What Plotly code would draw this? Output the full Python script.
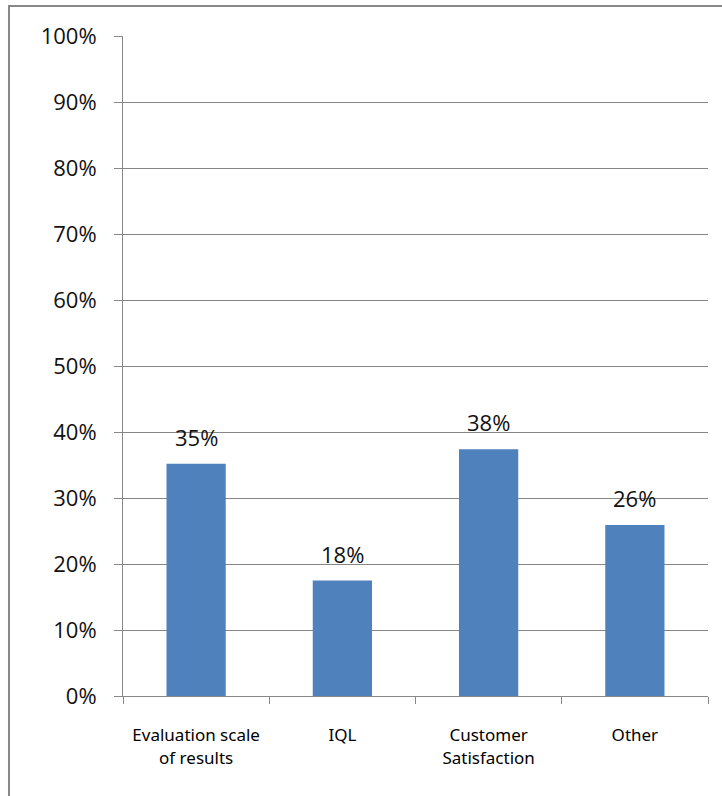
import plotly.graph_objects as go

categories = ["Evaluation scale<br>of results", "IQL", "Customer<br>Satisfaction", "Other"]
values = [0.352, 0.175, 0.374, 0.259]
labels = ["35%", "18%", "38%", "26%"]
y_ticks = [i / 10 for i in range(11)]
y_tick_labels = [f"{i * 10}%" for i in range(11)]

fig = go.Figure()
fig.add_trace(go.Bar(x=categories, y=values, marker=dict(color="#4F81BD", line=dict(width=0)),
                     width=0.405, showlegend=False))

for c, v, t in zip(categories, values, labels):
    fig.add_annotation(x=c, y=v, text=t, showarrow=False, yanchor="middle", yshift=27,
                       font=dict(family="Open Sans", size=22, color="#111111"))

fig.add_shape(type="rect", xref="paper", yref="paper",
              x0=-0.1949, x1=1.04, y0=-0.17, y1=1.0455,
              line=dict(color="#888888", width=2), fillcolor="rgba(0,0,0,0)", layer="below")

fig.update_layout(
    width=722, height=796,
    margin=dict(l=123, r=14, t=36, b=100),
    paper_bgcolor="white", plot_bgcolor="white",
    bargap=0.59,
    xaxis=dict(showline=True, linecolor="#888888", linewidth=1, ticks="outside",
               tickson="boundaries", ticklen=7, tickcolor="#888888",
               showgrid=False, ticklabelstandoff=24,
               tickfont=dict(family="Noto Sans", size=17, color="#000000")),
    yaxis=dict(range=[0, 1], tickvals=y_ticks, ticktext=y_tick_labels,
               showline=True, linecolor="#888888", linewidth=1, ticks="outside",
               ticklen=8, tickcolor="#888888", showgrid=True, gridcolor="#868686",
               gridwidth=1, zeroline=False, ticklabelstandoff=13,
               tickfont=dict(family="Open Sans", size=22, color="#111111")),
)

fig.write_html("out.html")
